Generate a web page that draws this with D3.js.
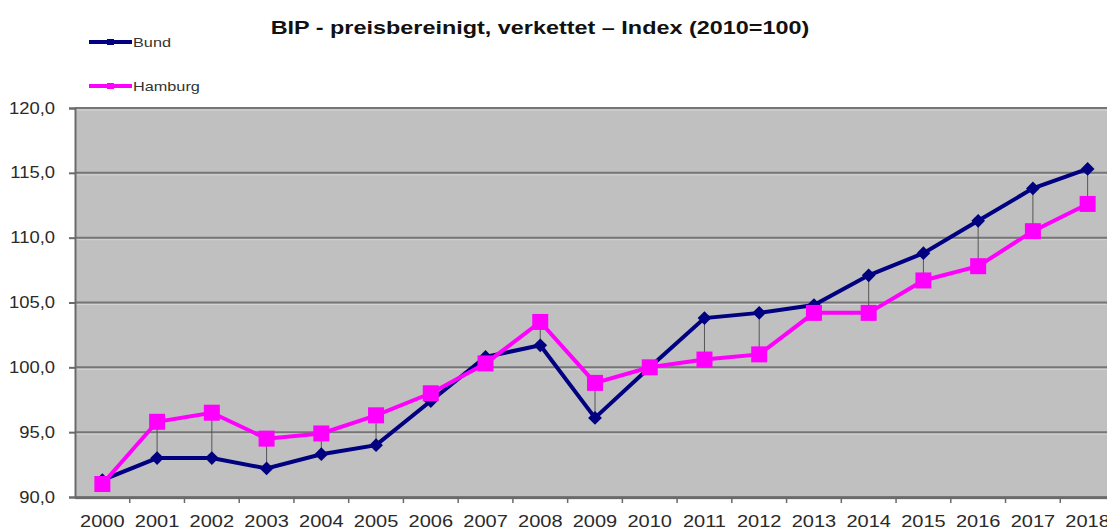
<!DOCTYPE html>
<html>
<head>
<meta charset="utf-8">
<script src="https://cdn.jsdelivr.net/npm/d3@7"></script>
<style>
body{margin:0;background:#fff;}
text{font-family:"Liberation Sans",Arial,sans-serif;}
</style>
</head>
<body>
<svg id="chart" width="1107" height="529"></svg>
<script>
const years=["2000","2001","2002","2003","2004","2005","2006","2007","2008","2009","2010","2011","2012","2013","2014","2015","2016","2017","2018"];
const bund=[91.3,93.0,93.0,92.2,93.3,94.0,97.4,100.8,101.7,96.1,100.0,103.8,104.2,104.8,107.1,108.8,111.3,113.8,115.3];
const hamburg=[91.0,95.8,96.5,94.5,94.9,96.3,98.0,100.3,103.5,98.8,100.0,100.6,101.0,104.2,104.2,106.7,107.8,110.5,112.6];
const y_ticks=[90,95,100,105,110,115,120];

const svg=d3.select("#chart");
const plot_left=75, plot_right=1115, plot_top=108, plot_bottom=497;

const x=d3.scaleBand().domain(years).range([plot_left,plot_right]);
const y=d3.scaleLinear().domain([90,120]).range([plot_bottom,plot_top]);
const cx=d=>x(d)+x.bandwidth()/2;

// the picture is a bit stretched sideways, so the text is widened too
function stretch(sel,factor){
    sel.each(function(){
        const len=this.getComputedTextLength();
        d3.select(this).attr("textLength",len*factor).attr("lengthAdjust","spacingAndGlyphs");
    });
}

// plot background
svg.append("rect")
    .attr("x",plot_left).attr("y",plot_top)
    .attr("width",plot_right-plot_left).attr("height",plot_bottom-plot_top)
    .attr("fill","#c0c0c0");

// grid lines
for (const t of y_ticks){
    svg.append("line")
        .attr("x1",plot_left).attr("x2",plot_right)
        .attr("y1",y(t)).attr("y2",y(t))
        .attr("stroke","#767676")
        .attr("stroke-width",2);
    svg.append("line")
        .attr("x1",plot_left).attr("x2",plot_right)
        .attr("y1",y(t)+2).attr("y2",y(t)+2)
        .attr("stroke","#d4d4d4")
        .attr("stroke-width",1);
}

// y axis
svg.append("g")
    .attr("transform","translate("+plot_left+",0)")
    .call(d3.axisLeft(y).tickValues(y_ticks).tickSize(6).tickPadding(14)
        .tickFormat(d=>d3.format(".1f")(d).replace(".",",")))
    .call(g=>g.select(".domain").attr("stroke","#6a6a6a").attr("stroke-width",2))
    .call(g=>g.selectAll(".tick line").attr("stroke","#6a6a6a").attr("stroke-width",2))
    .call(g=>g.selectAll("text").attr("font-size",16).attr("fill","#2a2a2a")
        .attr("font-family","'Liberation Sans',Arial,sans-serif"))
    .call(g=>stretch(g.selectAll("text"),1.15));

// x axis ticks at band edges
svg.append("line")
    .attr("x1",plot_left).attr("x2",plot_right)
    .attr("y1",plot_bottom+1).attr("y2",plot_bottom+1)
    .attr("stroke","#6a6a6a").attr("stroke-width",2);
for (const yr of years){
    svg.append("line")
        .attr("x1",x(yr)+x.bandwidth()).attr("x2",x(yr)+x.bandwidth())
        .attr("y1",plot_bottom).attr("y2",plot_bottom+6)
        .attr("stroke","#6a6a6a").attr("stroke-width",1.5);
    const label=svg.append("text")
        .attr("x",cx(yr)).attr("y",plot_bottom+30)
        .attr("text-anchor","middle")
        .attr("font-size",16)
        .attr("fill","#2a2a2a")
        .text(yr);
    stretch(label,1.25);
}

// high-low lines
years.forEach((yr,i)=>{
    svg.append("line")
        .attr("x1",cx(yr)).attr("x2",cx(yr))
        .attr("y1",y(bund[i])).attr("y2",y(hamburg[i]))
        .attr("stroke","#555").attr("stroke-width",1);
});

const line=d3.line().x((d,i)=>cx(years[i])).y(d=>y(d));

// Bund series
svg.append("path").datum(bund)
    .attr("d",line).attr("fill","none")
    .attr("stroke","#000080").attr("stroke-width",4);
svg.selectAll(".bund_pt").data(bund).enter().append("path")
    .attr("class","bund_pt")
    .attr("d",d3.symbol(d3.symbolDiamond2,120))
    .attr("transform",(d,i)=>"translate("+cx(years[i])+","+y(d)+")")
    .attr("fill","#000080");

// Hamburg series
svg.append("path").datum(hamburg)
    .attr("d",line).attr("fill","none")
    .attr("stroke","#ff00ff").attr("stroke-width",4);
svg.selectAll(".hh_pt").data(hamburg).enter().append("rect")
    .attr("class","hh_pt")
    .attr("x",(d,i)=>cx(years[i])-8).attr("y",d=>y(d)-8)
    .attr("width",16).attr("height",16)
    .attr("fill","#ff00ff");

// title
const title=svg.append("text")
    .attr("x",540).attr("y",34)
    .attr("text-anchor","middle")
    .attr("font-size",18).attr("font-weight","bold")
    .attr("fill","#111")
    .text("BIP - preisbereinigt, verkettet \u2013 Index (2010=100)");
stretch(title,1.3);

// legend
const legend=[["Bund","#000080",42],["Hamburg","#ff00ff",86]];
for (const [name,color,ly] of legend){
    svg.append("line")
        .attr("x1",89).attr("x2",132).attr("y1",ly).attr("y2",ly)
        .attr("stroke",color).attr("stroke-width",4);
    svg.append("rect")
        .attr("x",107).attr("y",ly-3).attr("width",7).attr("height",6)
        .attr("fill",color);
    const t=svg.append("text")
        .attr("x",133).attr("y",ly+5)
        .attr("font-size",13).attr("fill","#333")
        .text(name);
    stretch(t,1.25);
}
</script>
</body>
</html>
